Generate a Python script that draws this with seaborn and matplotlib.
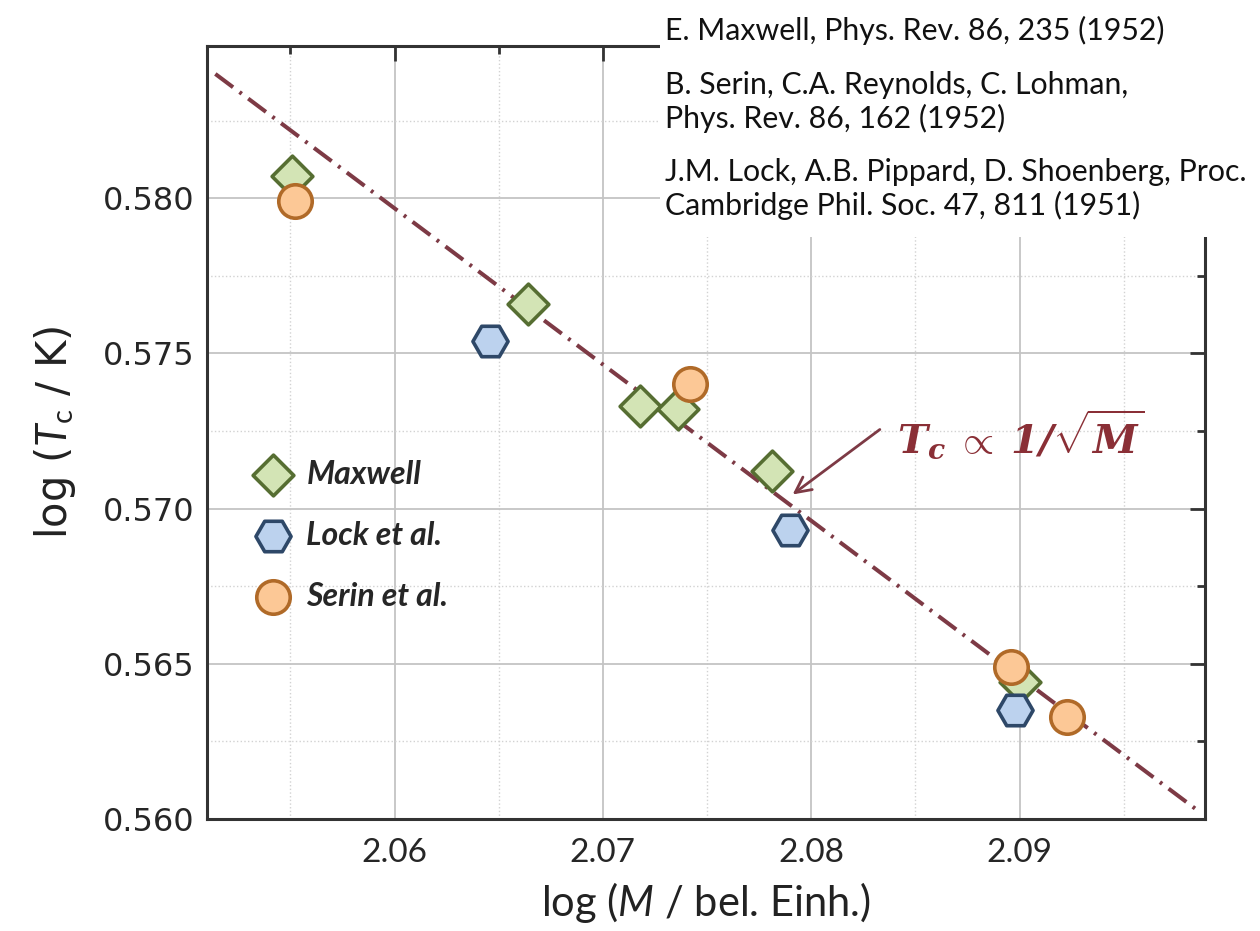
import matplotlib
matplotlib.use('Agg')
import matplotlib.pyplot as plt
import seaborn as sns
import pandas as pd
from matplotlib.patches import Rectangle
from matplotlib.ticker import MultipleLocator, FormatStrFormatter

# values
maxwell_x = [2.0551, 2.0664, 2.0718, 2.0736, 2.0781, 2.0900]
maxwell_y = [0.5807, 0.5766, 0.5733, 0.5732, 0.5712, 0.5644]
lock_x = [2.0646, 2.0790, 2.0898]
lock_y = [0.5754, 0.5693, 0.5635]
serin_x = [2.0552, 2.0742, 2.0896, 2.0923]
serin_y = [0.5799, 0.5740, 0.5649, 0.5633]
# T_c ~ 1/sqrt(M) line, slope -1/2
fit_x = [2.0514, 2.0985]
fit_y = [0.5840, 0.5603]

labels = ['Maxwell', 'Lock et al.', 'Serin et al.']
refs = ['E. Maxwell, Phys. Rev. 86, 235 (1952)',
        'B. Serin, C.A. Reynolds, C. Lohman,\nPhys. Rev. 86, 162 (1952)',
        'J.M. Lock, A.B. Pippard, D. Shoenberg, Proc.\nCambridge Phil. Soc. 47, 811 (1951)']

sns.set_theme(style='white')
plt.rcParams['font.family'] = ['Lato', 'DejaVu Sans']
plt.rcParams['mathtext.fontset'] = 'custom'
plt.rcParams['mathtext.rm'] = 'Lato'
plt.rcParams['mathtext.it'] = 'Lato:italic'
plt.rcParams['mathtext.bf'] = 'DejaVu Serif:italic:bold'

fig = plt.figure(figsize=(12.6, 9.31), dpi=100)
ax = fig.add_axes([207/1260, 1-819/931, 998/1260, 773/931])

line_col = '#7d3a45'
sns.lineplot(x=fit_x, y=fit_y, ax=ax, color=line_col, lw=2.9, zorder=2)
ax.lines[0].set_dashes([5.5, 2.0, 0.7, 2.0])

sns.scatterplot(x=maxwell_x, y=maxwell_y, ax=ax, marker='D', s=430,
                color='#d3e4b5', edgecolor='#566e32', linewidth=2.6, label=labels[0], zorder=3)
sns.scatterplot(x=lock_x, y=lock_y, ax=ax, marker='H', s=640,
                color='#bcd2ee', edgecolor='#2e4868', linewidth=2.6, label=labels[1], zorder=3)
sns.scatterplot(x=serin_x, y=serin_y, ax=ax, marker='o', s=580,
                color='#fcc896', edgecolor='#b06a28', linewidth=2.6, label=labels[2], zorder=4)

ax.set_xlim(2.0510, 2.0989)
ax.set_ylim(0.560, 0.5849)
ax.xaxis.set_major_locator(MultipleLocator(0.01))
ax.xaxis.set_minor_locator(MultipleLocator(0.005))
ax.yaxis.set_major_locator(MultipleLocator(0.005))
ax.yaxis.set_minor_locator(MultipleLocator(0.0025))
ax.xaxis.set_major_formatter(FormatStrFormatter('%.2f'))
ax.yaxis.set_major_formatter(FormatStrFormatter('%.3f'))

ax.grid(which='major', color='#c4c4c4', lw=1.3, ls='-')
ax.grid(which='minor', color='#d2d2d2', lw=1.0, ls=':')
ax.set_axisbelow(True)
ax.tick_params(which='both', direction='in', top=True, right=True,
               color='#333333', width=2)
ax.tick_params(which='major', length=11, labelsize=24)
ax.tick_params(axis='x', which='major', pad=14)
ax.tick_params(axis='y', which='major', pad=9)
ax.tick_params(which='minor', length=6)
for lab in ax.get_yticklabels():
    lab.set_family('DejaVu Sans')
    lab.set_fontsize(23)
for sp in ax.spines.values():
    sp.set_color('#333333')
    sp.set_linewidth(2.2)

ax.set_xlabel(r'log ($M$ / bel. Einh.)', fontsize=30, labelpad=8, color='#222222')
ax.set_ylabel(r'log ($T_{\mathrm{c}}$ / K)', fontsize=30, labelpad=18,
              family='DejaVu Sans', color='#222222')

ax.legend(loc='center left', bbox_to_anchor=(0.05, 0.367), frameon=False,
          prop={'family': 'Lato', 'weight': 'bold', 'style': 'italic', 'size': 23},
          handlelength=1.0, handletextpad=0.55, labelspacing=1.0,
          borderpad=0, borderaxespad=0)

ax.annotate('', xy=(2.0790, 0.5704), xytext=(2.0834, 0.5726),
            arrowprops=dict(arrowstyle='->', color=line_col, lw=2, mutation_scale=28))
ax.text(2.0841, 0.5718, r'$\mathbf{T_c}$ $\propto$ $\mathbf{1/}\sqrt{\mathbf{M}}$',
        color='#8a2f36', fontsize=29, va='baseline', ha='left')

# white box with the references over the top right corner
fig.patches.append(Rectangle((660/1260, 1-237/931), 600/1260, 237/931,
                             transform=fig.transFigure, facecolor='white',
                             edgecolor='none', zorder=5))
tops = [16, 71, 158]
for r, yt in zip(refs, tops):
    fig.text(665/1260, 1-yt/931, r, fontsize=21.8, color='#111111', va='top',
             ha='left', linespacing=1.22, zorder=6)

fig.savefig('out.png', dpi=100)
